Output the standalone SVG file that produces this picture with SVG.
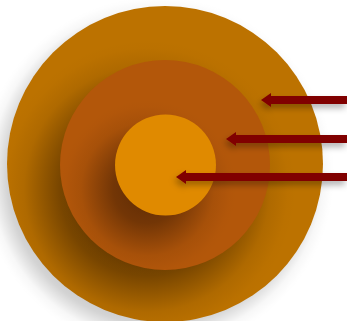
<svg xmlns="http://www.w3.org/2000/svg" width="347" height="321" viewBox="0 0 347 321">
  <style>
    .arrow-line { stroke: #800000; stroke-width: 8; fill: none; }
    .arrow-head { fill: #800000; }
  </style>
  <defs>
    <radialGradient id="shOuter">
      <stop offset="0" stop-color="#000" stop-opacity="0.2"/>
      <stop offset="0.8" stop-color="#000" stop-opacity="0.2"/>
      <stop offset="0.845" stop-color="#000" stop-opacity="0.17"/>
      <stop offset="0.89" stop-color="#000" stop-opacity="0.1"/>
      <stop offset="0.935" stop-color="#000" stop-opacity="0.03"/>
      <stop offset="0.98" stop-color="#000" stop-opacity="0.005"/>
      <stop offset="1" stop-color="#000" stop-opacity="0"/>
    </radialGradient>
    <radialGradient id="shMiddle">
      <stop offset="0" stop-color="#1a0800" stop-opacity="0.5"/>
      <stop offset="0.46" stop-color="#1a0800" stop-opacity="0.49"/>
      <stop offset="0.58" stop-color="#1a0800" stop-opacity="0.42"/>
      <stop offset="0.7" stop-color="#1a0800" stop-opacity="0.25"/>
      <stop offset="0.82" stop-color="#1a0800" stop-opacity="0.08"/>
      <stop offset="0.94" stop-color="#1a0800" stop-opacity="0.01"/>
      <stop offset="1" stop-color="#1a0800" stop-opacity="0"/>
    </radialGradient>
    <radialGradient id="shInner">
      <stop offset="0" stop-color="#1a0800" stop-opacity="0.5"/>
      <stop offset="0.2" stop-color="#1a0800" stop-opacity="0.49"/>
      <stop offset="0.38" stop-color="#1a0800" stop-opacity="0.42"/>
      <stop offset="0.56" stop-color="#1a0800" stop-opacity="0.25"/>
      <stop offset="0.74" stop-color="#1a0800" stop-opacity="0.08"/>
      <stop offset="0.92" stop-color="#1a0800" stop-opacity="0.01"/>
      <stop offset="1" stop-color="#1a0800" stop-opacity="0"/>
    </radialGradient>
    <clipPath id="clipOuter"><circle cx="165" cy="164" r="158"/></clipPath>
    <filter id="shadowArrow" filterUnits="userSpaceOnUse" x="100" y="50" width="300" height="180">
      <feDropShadow dx="-2" dy="4" stdDeviation="3" flood-color="#000" flood-opacity="0.3"/>
    </filter>
  </defs>
  <rect width="347" height="321" fill="#ffffff"/>
  <g id="outer">
    <circle cx="157" cy="174" r="178" fill="url(#shOuter)"/>
    <circle cx="165" cy="164" r="158" fill="#BC7200"/>
  </g>
  <g id="middle">
    <circle cx="147" cy="189" r="150" fill="url(#shMiddle)" clip-path="url(#clipOuter)"/>
    <circle cx="165" cy="165" r="105" fill="#B3570A"/>
  </g>
  <g id="inner">
    <circle cx="147.5" cy="189" r="90" fill="url(#shInner)"/>
    <circle cx="165.5" cy="165" r="50.5" fill="#E08A00"/>
  </g>
  <g id="connectors">
    <g filter="url(#shadowArrow)">
      <line class="arrow-line" x1="347" y1="100" x2="268" y2="100"/>
      <polygon class="arrow-head" points="261,100 271,93 271,107"/>
    </g>
    <g filter="url(#shadowArrow)">
      <line class="arrow-line" x1="347" y1="139" x2="233" y2="139"/>
      <polygon class="arrow-head" points="226,139 236,132 236,146"/>
    </g>
    <g filter="url(#shadowArrow)">
      <line class="arrow-line" x1="347" y1="177" x2="183" y2="177"/>
      <polygon class="arrow-head" points="176,177 186,170 186,184"/>
    </g>
  </g>
</svg>
